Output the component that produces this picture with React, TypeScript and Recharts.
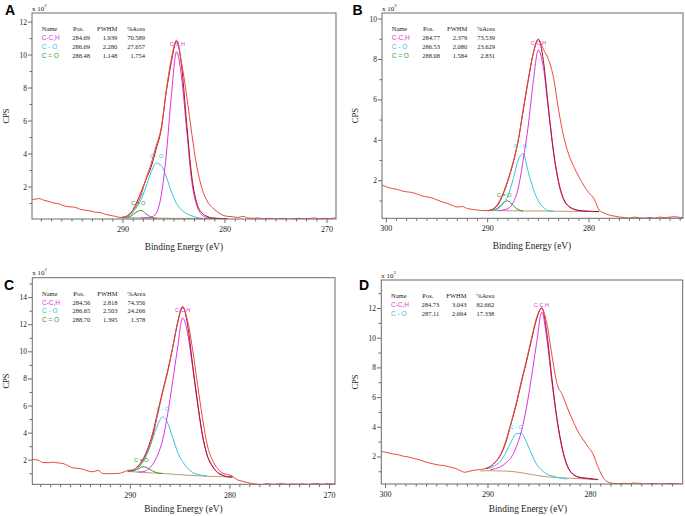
import { LineChart, Line, XAxis, YAxis, ReferenceDot } from "recharts";

const SERIF = "Liberation Serif";
const SANS = "Liberation Sans";

// ---------- panel A ----------
const energyA = [299.25, 298.75, 298.25, 297.75, 297.25, 296.75, 296.25, 295.75, 295.25, 294.75, 294.25, 293.75, 293.25, 292.75, 292.25, 291.75, 291.25, 290.75, 290.25, 289.75, 289.25, 288.75, 288.25, 287.75, 287.25, 286.75, 286.25, 285.75, 285.25, 284.75, 284.25, 283.75, 283.25, 282.75, 282.25, 281.75, 281.25, 280.75, 280.25, 279.75, 279.25, 278.75, 278.25, 277.75, 277.25, 276.75, 276.25, 275.75, 275.25, 274.75, 274.25, 273.75, 273.25, 272.75, 272.25, 271.75, 271.25, 270.75, 270.25, 269.75, 269.25, 268.75];
const rawA = [1.27, 1.25, 1.3, 1.2, 1.12, 1.02, 0.98, 0.85, 0.8, 0.78, 0.66, 0.6, 0.55, 0.48, 0.45, 0.35, 0.28, 0.22, 0.15, 0.2, 0.45, 0.8, 1.45, 2.5, 3.4, 4.5, 5.6, 7.9, 9.8, 10.9, 9.5, 7.5, 5.2, 3.2, 1.9, 1.15, 0.75, 0.5, 0.3, 0.22, 0.2, 0.15, 0.22, 0.12, 0.1, 0.12, 0.08, 0.1, 0.07, 0.08, 0.1, 0.06, 0.08, 0.1, 0.07, 0.09, 0.12, 0.08, 0.1, 0.08, 0.12, 0.1];
const fitEnergyA = [290.25, 289.75, 289.25, 288.75, 288.25, 287.75, 287.25, 286.75, 286.25, 285.75, 285.25, 284.75, 284.25, 283.75, 283.25, 282.75, 282.25, 281.75, 281.25, 280.75, 280.25, 279.75];
const cchA = [null, null, null, null, 0.12, 0.14, 0.18, 0.4, 1.5, 4.0, 7.6, 10.2, 8.6, 5.4, 2.3, 0.85, 0.3, 0.15, 0.11, 0.1, null, null];
const coA = [null, 0.14, 0.3, 0.7, 1.2, 2.0, 2.9, 3.45, 3.3, 2.6, 1.7, 1.0, 0.6, 0.38, 0.25, 0.15, 0.11, null, null, null, null, null];
const ceoA = [null, 0.12, 0.22, 0.45, 0.58, 0.38, 0.17, 0.1, null, null, null, null, null, null, null, null, null, null, null, null, null, null];
const bgA = [0.15, 0.14, 0.14, 0.13, 0.13, 0.12, 0.12, 0.12, 0.11, 0.11, 0.1, 0.1, 0.1, 0.1, 0.1, 0.09, 0.09, 0.09, 0.09, 0.08, 0.08, 0.08];
const envA = [0.15, 0.2, 0.4, 0.95, 1.65, 2.45, 3.2, 4.3, 5.5, 7.8, 9.6, 10.85, 9.3, 5.8, 2.6, 1.0, 0.42, 0.22, 0.12, 0.1, 0.09, 0.08];
const peakPosA = [284.68, 286.7, 288.5];
const peakHeightA = [10.67, 3.9, 1.01];
const tablePosA = ["284.69", "286.69", "288.48"];
const tableFwhmA = ["1.939", "2.280", "1.148"];
const tableAreaA = ["70.589", "27.657", "1.754"];

// ---------- panel B ----------
const energyB = [300.5, 300, 299.5, 299, 298.5, 298, 297.5, 297, 296.5, 296, 295.5, 295, 294.5, 294, 293.5, 293, 292.5, 292, 291.5, 291, 290.5, 290, 289.5, 289, 288.5, 288, 287.5, 287, 286.5, 286, 285.5, 285, 284.5, 284, 283.5, 283, 282.5, 282, 281.5, 281, 280.5, 280, 279.5, 279, 278.5, 278, 277.5, 277, 276.5, 276, 275.5, 275, 274.5, 274, 273.5, 273, 272.5, 272, 271.5, 271, 270.5];
const rawB = [1.8, 1.7, 1.62, 1.58, 1.5, 1.45, 1.42, 1.35, 1.25, 1.2, 1.15, 1.05, 0.95, 0.88, 0.78, 0.7, 0.72, 0.62, 0.58, 0.55, 0.52, 0.52, 0.6, 0.85, 1.35, 2.05, 2.9, 3.95, 5.5, 7.0, 8.3, 9.0, 8.5, 8.0, 7.1, 5.5, 4.2, 3.3, 2.7, 2.2, 1.75, 1.4, 1.1, 0.55, 0.4, 0.3, 0.25, 0.2, 0.18, 0.15, 0.2, 0.16, 0.15, 0.18, 0.15, 0.2, 0.17, 0.2, 0.22, 0.18, 0.2];
const fitEnergyB = [290, 289.5, 289, 288.5, 288, 287.5, 287, 286.5, 286, 285.5, 285, 284.5, 284, 283.5, 283, 282.5, 282, 281.5, 281, 280.5, 280, 279.5, 279];
const cchB = [null, null, 0.52, 0.55, 0.62, 0.9, 1.6, 3.0, 4.7, 6.9, 8.47, 7.6, 5.5, 3.4, 1.9, 1.05, 0.72, 0.58, 0.52, 0.49, 0.48, null, null];
const coB = [null, 0.52, 0.6, 0.85, 1.25, 2.05, 3.0, 3.35, 2.45, 1.6, 1.0, 0.68, 0.52, 0.5, null, null, null, null, null, null, null, null, null];
const ceoB = [null, 0.52, 0.65, 0.9, 1.0, 0.78, 0.57, 0.5, null, null, null, null, null, null, null, null, null, null, null, null, null, null, null];
const bgB = [0.52, 0.52, 0.52, 0.52, 0.51, 0.51, 0.51, 0.5, 0.5, 0.5, 0.5, 0.5, 0.49, 0.49, 0.49, 0.49, 0.48, 0.48, 0.48, 0.48, 0.48, 0.47, 0.47];
const envB = [0.52, 0.58, 0.8, 1.3, 2.0, 2.85, 3.95, 5.45, 6.95, 8.3, 9.0, 7.95, 5.6, 3.45, 1.95, 1.1, 0.75, 0.6, 0.53, 0.5, 0.49, 0.48, 0.47];
const peakPosB = [285.0, 286.77, 288.36];
const peakHeightB = [8.8, 3.74, 1.31];
const tablePosB = ["284.77", "286.53", "288.08"];
const tableFwhmB = ["2.379", "2.080", "1.584"];
const tableAreaB = ["73.539", "23.629", "2.831"];

// ---------- panel C ----------
const energyC = [300.25, 299.75, 299.25, 298.75, 298.25, 297.75, 297.25, 296.75, 296.25, 295.75, 295.25, 294.75, 294.25, 293.75, 293.25, 292.75, 292.25, 291.75, 291.25, 290.75, 290.25, 289.75, 289.25, 288.75, 288.25, 287.75, 287.25, 286.75, 286.25, 285.75, 285.25, 284.75, 284.25, 283.75, 283.25, 282.75, 282.25, 281.75, 281.25, 280.75, 280.25, 279.75, 279.25, 278.75, 278.25, 277.75, 277.25, 276.75, 276.25, 275.75, 275.25, 274.75, 274.25, 273.75, 273.25, 272.75, 272.25, 271.75, 271.25, 270.75, 270.25, 269.75, 269.25];
const rawC = [2.0, 2.05, 2.0, 1.82, 1.82, 1.85, 1.8, 1.75, 1.6, 1.43, 1.4, 1.33, 1.2, 1.15, 1.25, 1.02, 1.0, 1.01, 1.02, 1.1, 1.25, 1.28, 1.5, 1.95, 2.7, 3.75, 5.4, 7.0, 8.5, 10.3, 12.2, 13.3, 12.3, 10.2, 7.6, 5.1, 3.05, 2.0, 1.4, 1.05, 0.95, 0.82, 0.55, 0.45, 0.35, 0.28, 0.22, 0.2, 0.28, 0.22, 0.25, 0.27, 0.22, 0.25, 0.23, 0.26, 0.22, 0.25, 0.28, 0.23, 0.27, 0.25, 0.28];
const fitEnergyC = [290.25, 289.75, 289.25, 288.75, 288.25, 287.75, 287.25, 286.75, 286.25, 285.75, 285.25, 284.75, 284.25, 283.75, 283.25, 282.75, 282.25, 281.75, 281.25, 280.75, 280.25, 279.75];
const cchC = [null, null, 1.13, 1.15, 1.3, 1.7, 2.4, 3.5, 5.4, 7.8, 10.3, 12.5, 11.4, 8.9, 6.2, 3.8, 2.3, 1.55, 1.1, 0.9, 0.78, 0.76];
const coC = [1.16, 1.2, 1.4, 1.85, 2.55, 3.6, 4.6, 5.2, 4.75, 3.7, 2.6, 1.9, 1.4, 1.1, 0.95, 0.88, 0.82, null, null, null, null, null];
const ceoC = [1.17, 1.2, 1.33, 1.52, 1.42, 1.2, 1.06, 1.02, null, null, null, null, null, null, null, null, null, null, null, null, null, null];
const bgC = [1.17, 1.15, 1.12, 1.1, 1.08, 1.06, 1.04, 1.02, 1.0, 0.97, 0.94, 0.92, 0.89, 0.87, 0.85, 0.83, 0.81, 0.8, 0.79, 0.78, 0.77, 0.76];
const envC = [1.2, 1.26, 1.55, 2.05, 2.85, 4.0, 5.55, 7.1, 8.6, 10.3, 12.1, 13.35, 12.0, 9.1, 6.3, 3.85, 2.3, 1.55, 1.1, 0.9, 0.78, 0.76];
const peakPosC = [284.75, 286.73, 288.9];
const peakHeightC = [13.1, 5.8, 2.0];
const tablePosC = ["284.56", "286.65", "288.70"];
const tableFwhmC = ["2.818", "2.503", "1.395"];
const tableAreaC = ["74.356", "24.266", "1.378"];

// ---------- panel D ----------
const energyD = [300.75, 300.25, 299.75, 299.25, 298.75, 298.25, 297.75, 297.25, 296.75, 296.25, 295.75, 295.25, 294.75, 294.25, 293.75, 293.25, 292.75, 292.25, 291.75, 291.25, 290.75, 290.25, 289.75, 289.25, 288.75, 288.25, 287.75, 287.25, 286.75, 286.25, 285.75, 285.25, 284.75, 284.25, 283.75, 283.25, 282.75, 282.25, 281.75, 281.25, 280.75, 280.25, 279.75, 279.25, 278.75, 278.25, 277.75, 277.25, 276.75, 276.25, 275.75, 275.25, 274.75, 274.25, 273.75, 273.25, 272.75, 272.25, 271.75, 271.25, 270.75];
const rawD = [2.4, 2.35, 2.28, 2.2, 2.15, 2.05, 2.0, 1.9, 1.82, 1.7, 1.6, 1.52, 1.45, 1.42, 1.32, 1.25, 1.1, 0.97, 1.05, 1.12, 1.15, 1.22, 1.38, 1.7, 2.2, 3.1, 4.3, 5.6, 7.1, 8.5, 10.0, 11.4, 12.0, 10.95, 8.8, 6.9, 6.2, 5.3, 4.5, 3.75, 3.2, 2.7, 2.2, 1.3, 0.6, 0.3, 0.22, 0.2, 0.23, 0.2, 0.25, 0.22, 0.18, 0.2, 0.22, 0.18, 0.2, 0.22, 0.2, 0.18, 0.2];
const fitEnergyD = [290.75, 290.25, 289.75, 289.25, 288.75, 288.25, 287.75, 287.25, 286.75, 286.25, 285.75, 285.25, 284.75, 284.25, 283.75, 283.25, 282.75, 282.25, 281.75, 281.25, 280.75, 280.25, 279.75, 279.25];
const cchD = [null, null, 1.15, 1.22, 1.35, 1.6, 1.95, 2.65, 3.7, 5.3, 7.4, 9.7, 11.75, 9.9, 7.0, 4.4, 2.5, 1.35, 0.85, 0.65, 0.58, 0.54, 0.5, null];
const coD = [null, 1.2, 1.28, 1.45, 1.75, 2.3, 3.0, 3.55, 3.6, 3.0, 2.2, 1.5, 1.1, 0.85, 0.72, 0.62, 0.56, 0.52, null, null, null, null, null, null];
const bgD = [1.06, 1.07, 1.07, 1.07, 1.06, 1.05, 1.03, 0.99, 0.94, 0.88, 0.82, 0.76, 0.71, 0.67, 0.64, 0.62, 0.6, 0.58, 0.56, 0.55, 0.53, 0.51, 0.49, 0.46];
const envD = [null, 1.22, 1.36, 1.68, 2.15, 3.0, 4.25, 5.5, 7.0, 8.4, 9.9, 11.3, 12.05, 10.3, 7.2, 4.5, 2.6, 1.4, 0.88, 0.67, 0.6, 0.56, 0.52, 0.48];
const peakPosD = [284.79, 287.23];
const peakHeightD = [12.2, 4.04];
const tablePosD = ["284.73", "287.11"];
const tableFwhmD = ["3.043", "2.664"];
const tableAreaD = ["82.662", "17.338"];

// ---------- shared labels ----------
const componentNames = ["C-C,H", "C - O", "C = O"];
const componentColors = ["#e030e0", "#30c4dc", "#2a9a2a"];
const tableHeader = ["Name", "Pos.", "FWHM", "%Area"];
const xLabelsA = [290, 280, 270];
const xLabelsB = [300, 290, 280];
const xLabelsC = [290, 280, 270];
const xLabelsD = [300, 290, 280];
const yLabelsA = [2, 4, 6, 8, 10, 12];
const yLabelsB = [2, 4, 6, 8, 10];
const yLabelsC = [2, 4, 6, 8, 10, 12, 14];
const yLabelsD = [2, 4, 6, 8, 10, 12];

const C_RAW = "#e8483e";
const C_ENV = "#a8141c";
const C_BG = "#c39a68";
const C_FRAME = "#6a6a6a";

function buildRows(energy, raw, fitEnergy, fits) {
  const map = new Map();
  energy.forEach((e, i) => map.set(e, { e, raw: raw[i] }));
  fitEnergy.forEach((e, i) => {
    const row = map.get(e) ?? { e };
    Object.keys(fits).forEach((k) => {
      const v = fits[k][i];
      if (v != null) row[k] = v;
    });
    map.set(e, row);
  });
  return [...map.values()].sort((a, b) => b.e - a.e);
}

const panels = [
  {
    letter: "A", letterAt: [10, 10], titleX: 184, titleDy: 27.5,
    frame: { l: 32, t: 13, r: 336, b: 219 },
    xDomain: [269.12, 298.92], yDomain: [0.06, 12.55],
    xLabels: xLabelsA, yLabels: yLabelsA,
    rows: buildRows(energyA, rawA, fitEnergyA, { cch: cchA, co: coA, ceo: ceoA, bg: bgA, env: envA }),
    peakPos: peakPosA, peakHeight: peakHeightA,
    tPos: tablePosA, tFwhm: tableFwhmA, tArea: tableAreaA,
  },
  {
    letter: "B", letterAt: [357.5, 10], titleX: 532, titleDy: 27.5,
    frame: { l: 382, t: 13, r: 683, b: 218.3 },
    xDomain: [270.72, 300.43], yDomain: [0.14, 10.3],
    xLabels: xLabelsB, yLabels: yLabelsB,
    rows: buildRows(energyB, rawB, fitEnergyB, { cch: cchB, co: coB, ceo: ceoB, bg: bgB, env: envB }),
    peakPos: peakPosB, peakHeight: peakHeightB,
    tPos: tablePosB, tFwhm: tableFwhmB, tArea: tableAreaB,
  },
  {
    letter: "C", letterAt: [9, 285], titleX: 183.5, titleDy: 24.5,
    frame: { l: 32.3, t: 277.7, r: 335, b: 484.3 },
    xDomain: [269.48, 299.87], yDomain: [0.2, 15.45],
    xLabels: xLabelsC, yLabels: yLabelsC,
    rows: buildRows(energyC, rawC, fitEnergyC, { cch: cchC, co: coC, ceo: ceoC, bg: bgC, env: envC }),
    peakPos: peakPosC, peakHeight: peakHeightC,
    tPos: tablePosC, tFwhm: tableFwhmC, tArea: tableAreaC,
  },
  {
    letter: "D", letterAt: [364, 285], titleX: 528, titleDy: 24.5,
    frame: { l: 381.3, t: 280, r: 682.7, b: 484 },
    xDomain: [271.03, 300.44], yDomain: [0.18, 13.92],
    xLabels: xLabelsD, yLabels: yLabelsD,
    rows: buildRows(energyD, rawD, fitEnergyD, { cch: cchD, co: coD, bg: bgD, env: envD }),
    peakPos: peakPosD, peakHeight: peakHeightD,
    tPos: tablePosD, tFwhm: tableFwhmD, tArea: tableAreaD,
  },
];

const serifStyle = { fontFamily: SERIF };
const sansStyle = { fontFamily: SANS };

const xTick = (labels) => (props) => {
  const { x, y, payload } = props;
  const major = labels.includes(payload.value);
  return (
    <g>
      <line x1={x} x2={x} y1={y} y2={y + (major ? 4 : 2.5)} stroke={C_FRAME} />
      {major && (
        <text x={x} y={y + 10.5} textAnchor="middle" dominantBaseline="central" fontSize={8} style={serifStyle} fill="#222">
          {payload.value}
        </text>
      )}
    </g>
  );
};

const yTick = (labels) => (props) => {
  const { x, y, payload } = props;
  const major = labels.includes(payload.value);
  return (
    <g>
      <line x1={x - (major ? 4 : 2.5)} x2={x} y1={y} y2={y} stroke={C_FRAME} />
      {major && (
        <text x={x - 5} y={y} textAnchor="end" dominantBaseline="central" fontSize={7.5} style={serifStyle} fill="#222">
          {payload.value}
        </text>
      )}
    </g>
  );
};

function Panel({ p }) {
  const { frame } = p;
  const padL = 40, padT = 10, padB = 30, padR = 5;
  const w = frame.r - frame.l;
  const h = frame.b - frame.t;
  const xTicks = [];
  for (let v = Math.ceil(p.xDomain[0]); v <= Math.floor(p.xDomain[1]); v++) xTicks.push(v);
  const yTicks = [];
  for (let v = 1; v <= Math.floor(p.yDomain[1]); v++) yTicks.push(v);
  const lines = [
    { key: "bg", color: C_BG },
    { key: "ceo", color: componentColors[2] },
    { key: "co", color: componentColors[1] },
    { key: "cch", color: componentColors[0] },
    { key: "env", color: C_ENV },
    { key: "raw", color: C_RAW },
  ];
  return (
    <div style={{ position: "absolute", left: frame.l - padL, top: frame.t - padT }}>
      <LineChart width={w + padL + padR} height={h + padT + padB} data={p.rows} margin={{ top: padT, right: padR, bottom: 0, left: 0 }}>
        <XAxis dataKey="e" type="number" domain={p.xDomain} reversed allowDataOverflow ticks={xTicks} interval={0}
          tick={xTick(p.xLabels)} tickLine={false} tickSize={0} tickMargin={0} axisLine={false} height={padB} />
        <YAxis type="number" domain={p.yDomain} allowDataOverflow ticks={yTicks} interval={0}
          tick={yTick(p.yLabels)} tickLine={false} tickSize={0} tickMargin={0} axisLine={false} width={padL} />
        {lines.map((l) => (
          <Line key={l.key} dataKey={l.key} type="monotone" stroke={l.color} strokeWidth={1} dot={false}
            activeDot={false} isAnimationActive={false} connectNulls={false} />
        ))}
        {p.peakPos.map((e, i) => (
          <ReferenceDot key={i} x={e} y={p.peakHeight[i]} r={0} stroke="none" fill="none" ifOverflow="visible"
            label={{ value: componentNames[i], position: "center", fill: componentColors[i], fontSize: 5.5, style: sansStyle }} />
        ))}
      </LineChart>
    </div>
  );
}

function Annotations({ p }) {
  const { l, t, r, b } = p.frame;
  const rowsY = [t + 15.5, t + 24.3, t + 33.2, t + 42.2];
  const cy = (t + b) / 2;
  return (
    <g>
      <rect x={l} y={t} width={r - l} height={b - t} fill="none" stroke={C_FRAME} strokeWidth={1} />
      <text x={p.letterAt[0]} y={p.letterAt[1]} textAnchor="middle" dominantBaseline="central" fontSize={14} fontWeight="bold" style={sansStyle} fill="#000">
        {p.letter}
      </text>
      <text x={l} y={t - 4.5} dominantBaseline="central" fontSize={7} style={serifStyle} fill="#222">
        x 10<tspan dy={-4} fontSize={5}>2</tspan>
      </text>
      <text x={l - 26.5} y={cy} transform={`rotate(-90 ${l - 26.5} ${cy})`} textAnchor="middle" dominantBaseline="central" fontSize={8.5} style={serifStyle} fill="#222">
        CPS
      </text>
      <text x={p.titleX} y={b + p.titleDy} textAnchor="middle" dominantBaseline="central" fontSize={9.3} style={serifStyle} fill="#222">
        Binding Energy (eV)
      </text>
      <g fontSize={6.5} fill="#222" dominantBaseline="central" style={serifStyle}>
        <text x={l + 9.7} y={rowsY[0]}>{tableHeader[0]}</text>
        <text x={l + 52} y={rowsY[0]} textAnchor="end">{tableHeader[1]}</text>
        <text x={l + 85.3} y={rowsY[0]} textAnchor="end">{tableHeader[2]}</text>
        <text x={l + 113} y={rowsY[0]} textAnchor="end">{tableHeader[3]}</text>
        {p.tPos.map((pos, i) => (
          <g key={i}>
            <text x={l + 9.7} y={rowsY[i + 1]} fill={componentColors[i]} style={sansStyle}>{componentNames[i]}</text>
            <text x={l + 58} y={rowsY[i + 1]} textAnchor="end">{pos}</text>
            <text x={l + 85.3} y={rowsY[i + 1]} textAnchor="end">{p.tFwhm[i]}</text>
            <text x={l + 113} y={rowsY[i + 1]} textAnchor="end">{p.tArea[i]}</text>
          </g>
        ))}
      </g>
    </g>
  );
}

export default function App() {
  return (
    <div style={{ position: "absolute", left: 0, top: 0, width: 685, height: 516, background: "#fff", overflow: "hidden" }}>
      {panels.map((p) => (
        <Panel key={p.letter} p={p} />
      ))}
      <svg width={685} height={516} style={{ position: "absolute", left: 0, top: 0, pointerEvents: "none" }}>
        {panels.map((p) => (
          <Annotations key={p.letter} p={p} />
        ))}
      </svg>
    </div>
  );
}
